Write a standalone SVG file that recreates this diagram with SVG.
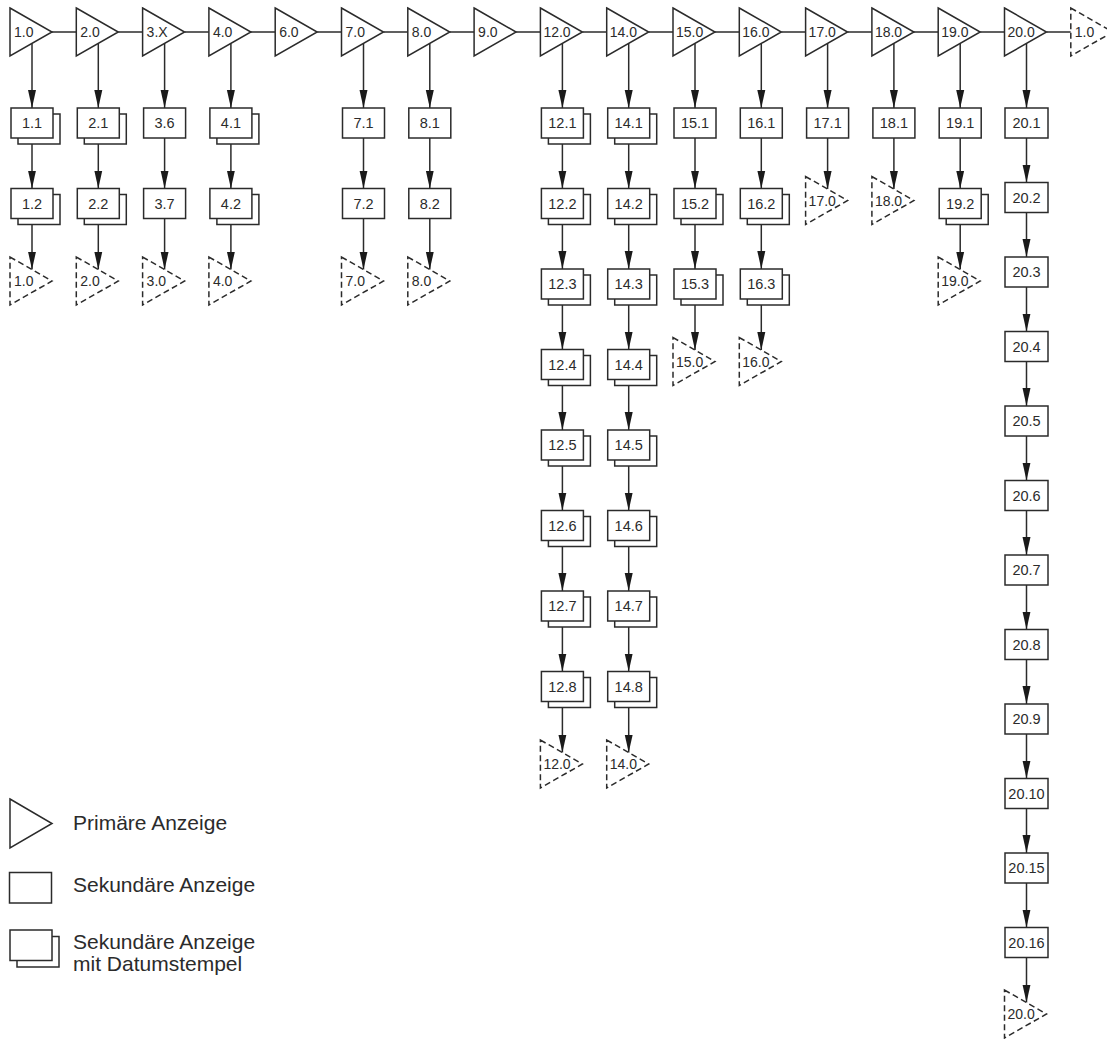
<svg xmlns="http://www.w3.org/2000/svg" width="1107" height="1039" viewBox="0 0 1107 1039">
<style>
.tri{fill:#fff;stroke:#2b2b2b;stroke-width:1.5}
.dtri{fill:#fff;stroke:#2b2b2b;stroke-width:1.5;stroke-dasharray:6 3.5}
.box{fill:#fff;stroke:#2b2b2b;stroke-width:1.5}
.con{fill:none;stroke:#2b2b2b;stroke-width:1.5}
.arr{fill:none;stroke:#2b2b2b;stroke-width:1.5;marker-end:url(#ah)}
text{font-family:"Liberation Sans",Arial,sans-serif;fill:#2b2b2b}
.tl{font-size:14px}
.bl{font-size:14.5px;text-anchor:middle}
.lg{font-size:21px}
</style>
<defs>
<marker id="ah" markerUnits="userSpaceOnUse" markerWidth="18" markerHeight="9" refX="18" refY="4.5" orient="auto"><path d="M0,0.5 L18,4.5 L0,8.5 z" fill="#1a1a1a"/></marker>
</defs>
<rect width="1107" height="1039" fill="#fff"/>
<g id="connectors">
<line class="con" x1="52" y1="32" x2="76.3" y2="32"/>
<line class="con" x1="118.3" y1="32" x2="142.6" y2="32"/>
<line class="con" x1="184.6" y1="32" x2="208.9" y2="32"/>
<line class="con" x1="250.9" y1="32" x2="275.2" y2="32"/>
<line class="con" x1="317.2" y1="32" x2="341.5" y2="32"/>
<line class="con" x1="383.5" y1="32" x2="407.8" y2="32"/>
<line class="con" x1="449.8" y1="32" x2="474.1" y2="32"/>
<line class="con" x1="516.1" y1="32" x2="540.4" y2="32"/>
<line class="con" x1="582.4" y1="32" x2="606.7" y2="32"/>
<line class="con" x1="648.7" y1="32" x2="673" y2="32"/>
<line class="con" x1="715" y1="32" x2="739.3" y2="32"/>
<line class="con" x1="781.3" y1="32" x2="805.6" y2="32"/>
<line class="con" x1="847.6" y1="32" x2="871.9" y2="32"/>
<line class="con" x1="913.9" y1="32" x2="938.2" y2="32"/>
<line class="con" x1="980.2" y1="32" x2="1004.5" y2="32"/>
<line class="con" x1="1046.5" y1="32" x2="1070.8" y2="32"/>
<line class="arr" x1="32" y1="43.4" x2="32" y2="108"/>
<line class="arr" x1="32" y1="138" x2="32" y2="188.5"/>
<line class="arr" x1="32" y1="218.5" x2="32" y2="269.6"/>
<line class="arr" x1="98.3" y1="43.4" x2="98.3" y2="108"/>
<line class="arr" x1="98.3" y1="138" x2="98.3" y2="188.5"/>
<line class="arr" x1="98.3" y1="218.5" x2="98.3" y2="269.6"/>
<line class="arr" x1="164.6" y1="43.4" x2="164.6" y2="108"/>
<line class="arr" x1="164.6" y1="138" x2="164.6" y2="188.5"/>
<line class="arr" x1="164.6" y1="218.5" x2="164.6" y2="269.6"/>
<line class="arr" x1="230.9" y1="43.4" x2="230.9" y2="108"/>
<line class="arr" x1="230.9" y1="138" x2="230.9" y2="188.5"/>
<line class="arr" x1="230.9" y1="218.5" x2="230.9" y2="269.6"/>
<line class="arr" x1="363.5" y1="43.4" x2="363.5" y2="108"/>
<line class="arr" x1="363.5" y1="138" x2="363.5" y2="188.5"/>
<line class="arr" x1="363.5" y1="218.5" x2="363.5" y2="269.6"/>
<line class="arr" x1="429.8" y1="43.4" x2="429.8" y2="108"/>
<line class="arr" x1="429.8" y1="138" x2="429.8" y2="188.5"/>
<line class="arr" x1="429.8" y1="218.5" x2="429.8" y2="269.6"/>
<line class="arr" x1="562.4" y1="43.4" x2="562.4" y2="108"/>
<line class="arr" x1="562.4" y1="138" x2="562.4" y2="188.5"/>
<line class="arr" x1="562.4" y1="218.5" x2="562.4" y2="269"/>
<line class="arr" x1="562.4" y1="299" x2="562.4" y2="349.5"/>
<line class="arr" x1="562.4" y1="379.5" x2="562.4" y2="430"/>
<line class="arr" x1="562.4" y1="460" x2="562.4" y2="510.5"/>
<line class="arr" x1="562.4" y1="540.5" x2="562.4" y2="591"/>
<line class="arr" x1="562.4" y1="621" x2="562.4" y2="671.5"/>
<line class="arr" x1="562.4" y1="701.5" x2="562.4" y2="752.6"/>
<line class="arr" x1="628.7" y1="43.4" x2="628.7" y2="108"/>
<line class="arr" x1="628.7" y1="138" x2="628.7" y2="188.5"/>
<line class="arr" x1="628.7" y1="218.5" x2="628.7" y2="269"/>
<line class="arr" x1="628.7" y1="299" x2="628.7" y2="349.5"/>
<line class="arr" x1="628.7" y1="379.5" x2="628.7" y2="430"/>
<line class="arr" x1="628.7" y1="460" x2="628.7" y2="510.5"/>
<line class="arr" x1="628.7" y1="540.5" x2="628.7" y2="591"/>
<line class="arr" x1="628.7" y1="621" x2="628.7" y2="671.5"/>
<line class="arr" x1="628.7" y1="701.5" x2="628.7" y2="752.6"/>
<line class="arr" x1="695" y1="43.4" x2="695" y2="108"/>
<line class="arr" x1="695" y1="138" x2="695" y2="188.5"/>
<line class="arr" x1="695" y1="218.5" x2="695" y2="269"/>
<line class="arr" x1="695" y1="299" x2="695" y2="350.1"/>
<line class="arr" x1="761.3" y1="43.4" x2="761.3" y2="108"/>
<line class="arr" x1="761.3" y1="138" x2="761.3" y2="188.5"/>
<line class="arr" x1="761.3" y1="218.5" x2="761.3" y2="269"/>
<line class="arr" x1="761.3" y1="299" x2="761.3" y2="350.1"/>
<line class="arr" x1="827.6" y1="43.4" x2="827.6" y2="108"/>
<line class="arr" x1="827.6" y1="138" x2="827.6" y2="189.1"/>
<line class="arr" x1="893.9" y1="43.4" x2="893.9" y2="108"/>
<line class="arr" x1="893.9" y1="138" x2="893.9" y2="189.1"/>
<line class="arr" x1="960.2" y1="43.4" x2="960.2" y2="108"/>
<line class="arr" x1="960.2" y1="138" x2="960.2" y2="188.5"/>
<line class="arr" x1="960.2" y1="218.5" x2="960.2" y2="269.6"/>
<line class="arr" x1="1026.5" y1="43.4" x2="1026.5" y2="108"/>
<line class="arr" x1="1026.5" y1="138" x2="1026.5" y2="182.5"/>
<line class="arr" x1="1026.5" y1="212.5" x2="1026.5" y2="257"/>
<line class="arr" x1="1026.5" y1="287" x2="1026.5" y2="331.5"/>
<line class="arr" x1="1026.5" y1="361.5" x2="1026.5" y2="406"/>
<line class="arr" x1="1026.5" y1="436" x2="1026.5" y2="480.5"/>
<line class="arr" x1="1026.5" y1="510.5" x2="1026.5" y2="555"/>
<line class="arr" x1="1026.5" y1="585" x2="1026.5" y2="629.5"/>
<line class="arr" x1="1026.5" y1="659.5" x2="1026.5" y2="704"/>
<line class="arr" x1="1026.5" y1="734" x2="1026.5" y2="778.5"/>
<line class="arr" x1="1026.5" y1="808.5" x2="1026.5" y2="853"/>
<line class="arr" x1="1026.5" y1="883" x2="1026.5" y2="927.5"/>
<line class="arr" x1="1026.5" y1="957.5" x2="1026.5" y2="1002.6"/>
</g>

<g id="p1_0"><polygon class="tri" points="10,8 52,32 10,56"/><text class="tl" x="14" y="37">1.0</text></g>
<g id="p2_0"><polygon class="tri" points="76.3,8 118.3,32 76.3,56"/><text class="tl" x="80.3" y="37">2.0</text></g>
<g id="p3_x"><polygon class="tri" points="142.6,8 184.6,32 142.6,56"/><text class="tl" x="146.6" y="37">3.X</text></g>
<g id="p4_0"><polygon class="tri" points="208.9,8 250.9,32 208.9,56"/><text class="tl" x="212.9" y="37">4.0</text></g>
<g id="p6_0"><polygon class="tri" points="275.2,8 317.2,32 275.2,56"/><text class="tl" x="279.2" y="37">6.0</text></g>
<g id="p7_0"><polygon class="tri" points="341.5,8 383.5,32 341.5,56"/><text class="tl" x="345.5" y="37">7.0</text></g>
<g id="p8_0"><polygon class="tri" points="407.8,8 449.8,32 407.8,56"/><text class="tl" x="411.8" y="37">8.0</text></g>
<g id="p9_0"><polygon class="tri" points="474.1,8 516.1,32 474.1,56"/><text class="tl" x="478.1" y="37">9.0</text></g>
<g id="p12_0"><polygon class="tri" points="540.4,8 582.4,32 540.4,56"/><text class="tl" x="543.4" y="37">12.0</text></g>
<g id="p14_0"><polygon class="tri" points="606.7,8 648.7,32 606.7,56"/><text class="tl" x="609.7" y="37">14.0</text></g>
<g id="p15_0"><polygon class="tri" points="673,8 715,32 673,56"/><text class="tl" x="676" y="37">15.0</text></g>
<g id="p16_0"><polygon class="tri" points="739.3,8 781.3,32 739.3,56"/><text class="tl" x="742.3" y="37">16.0</text></g>
<g id="p17_0"><polygon class="tri" points="805.6,8 847.6,32 805.6,56"/><text class="tl" x="808.6" y="37">17.0</text></g>
<g id="p18_0"><polygon class="tri" points="871.9,8 913.9,32 871.9,56"/><text class="tl" x="874.9" y="37">18.0</text></g>
<g id="p19_0"><polygon class="tri" points="938.2,8 980.2,32 938.2,56"/><text class="tl" x="941.2" y="37">19.0</text></g>
<g id="p20_0"><polygon class="tri" points="1004.5,8 1046.5,32 1004.5,56"/><text class="tl" x="1007.5" y="37">20.0</text></g>
<g id="ref1_0_top"><polygon class="dtri" points="1070.8,8 1112.8,32 1070.8,56"/><text class="tl" x="1074.8" y="37">1.0</text></g>

<g id="s1_1"><rect class="box" x="18" y="114" width="42" height="30"/><rect class="box" x="11" y="108" width="42" height="30"/><text class="bl" x="32" y="128">1.1</text></g>
<g id="s1_2"><rect class="box" x="18" y="194.5" width="42" height="30"/><rect class="box" x="11" y="188.5" width="42" height="30"/><text class="bl" x="32" y="208.5">1.2</text></g>
<g id="ref1_0"><polygon class="dtri" points="10,257 52,281 10,305"/><text class="tl" x="14" y="286">1.0</text></g>
<g id="s2_1"><rect class="box" x="84.3" y="114" width="42" height="30"/><rect class="box" x="77.3" y="108" width="42" height="30"/><text class="bl" x="98.3" y="128">2.1</text></g>
<g id="s2_2"><rect class="box" x="84.3" y="194.5" width="42" height="30"/><rect class="box" x="77.3" y="188.5" width="42" height="30"/><text class="bl" x="98.3" y="208.5">2.2</text></g>
<g id="ref2_0"><polygon class="dtri" points="76.3,257 118.3,281 76.3,305"/><text class="tl" x="80.3" y="286">2.0</text></g>
<g id="s3_6"><rect class="box" x="143.6" y="108" width="42" height="30"/><text class="bl" x="164.6" y="128">3.6</text></g>
<g id="s3_7"><rect class="box" x="143.6" y="188.5" width="42" height="30"/><text class="bl" x="164.6" y="208.5">3.7</text></g>
<g id="ref3_0"><polygon class="dtri" points="142.6,257 184.6,281 142.6,305"/><text class="tl" x="146.6" y="286">3.0</text></g>
<g id="s4_1"><rect class="box" x="216.9" y="114" width="42" height="30"/><rect class="box" x="209.9" y="108" width="42" height="30"/><text class="bl" x="230.9" y="128">4.1</text></g>
<g id="s4_2"><rect class="box" x="216.9" y="194.5" width="42" height="30"/><rect class="box" x="209.9" y="188.5" width="42" height="30"/><text class="bl" x="230.9" y="208.5">4.2</text></g>
<g id="ref4_0"><polygon class="dtri" points="208.9,257 250.9,281 208.9,305"/><text class="tl" x="212.9" y="286">4.0</text></g>
<g id="s7_1"><rect class="box" x="342.5" y="108" width="42" height="30"/><text class="bl" x="363.5" y="128">7.1</text></g>
<g id="s7_2"><rect class="box" x="342.5" y="188.5" width="42" height="30"/><text class="bl" x="363.5" y="208.5">7.2</text></g>
<g id="ref7_0"><polygon class="dtri" points="341.5,257 383.5,281 341.5,305"/><text class="tl" x="345.5" y="286">7.0</text></g>
<g id="s8_1"><rect class="box" x="408.8" y="108" width="42" height="30"/><text class="bl" x="429.8" y="128">8.1</text></g>
<g id="s8_2"><rect class="box" x="408.8" y="188.5" width="42" height="30"/><text class="bl" x="429.8" y="208.5">8.2</text></g>
<g id="ref8_0"><polygon class="dtri" points="407.8,257 449.8,281 407.8,305"/><text class="tl" x="411.8" y="286">8.0</text></g>
<g id="s12_1"><rect class="box" x="548.4" y="114" width="42" height="30"/><rect class="box" x="541.4" y="108" width="42" height="30"/><text class="bl" x="562.4" y="128">12.1</text></g>
<g id="s12_2"><rect class="box" x="548.4" y="194.5" width="42" height="30"/><rect class="box" x="541.4" y="188.5" width="42" height="30"/><text class="bl" x="562.4" y="208.5">12.2</text></g>
<g id="s12_3"><rect class="box" x="548.4" y="275" width="42" height="30"/><rect class="box" x="541.4" y="269" width="42" height="30"/><text class="bl" x="562.4" y="289">12.3</text></g>
<g id="s12_4"><rect class="box" x="548.4" y="355.5" width="42" height="30"/><rect class="box" x="541.4" y="349.5" width="42" height="30"/><text class="bl" x="562.4" y="369.5">12.4</text></g>
<g id="s12_5"><rect class="box" x="548.4" y="436" width="42" height="30"/><rect class="box" x="541.4" y="430" width="42" height="30"/><text class="bl" x="562.4" y="450">12.5</text></g>
<g id="s12_6"><rect class="box" x="548.4" y="516.5" width="42" height="30"/><rect class="box" x="541.4" y="510.5" width="42" height="30"/><text class="bl" x="562.4" y="530.5">12.6</text></g>
<g id="s12_7"><rect class="box" x="548.4" y="597" width="42" height="30"/><rect class="box" x="541.4" y="591" width="42" height="30"/><text class="bl" x="562.4" y="611">12.7</text></g>
<g id="s12_8"><rect class="box" x="548.4" y="677.5" width="42" height="30"/><rect class="box" x="541.4" y="671.5" width="42" height="30"/><text class="bl" x="562.4" y="691.5">12.8</text></g>
<g id="ref12_0"><polygon class="dtri" points="540.4,740 582.4,764 540.4,788"/><text class="tl" x="543.4" y="769">12.0</text></g>
<g id="s14_1"><rect class="box" x="614.7" y="114" width="42" height="30"/><rect class="box" x="607.7" y="108" width="42" height="30"/><text class="bl" x="628.7" y="128">14.1</text></g>
<g id="s14_2"><rect class="box" x="614.7" y="194.5" width="42" height="30"/><rect class="box" x="607.7" y="188.5" width="42" height="30"/><text class="bl" x="628.7" y="208.5">14.2</text></g>
<g id="s14_3"><rect class="box" x="614.7" y="275" width="42" height="30"/><rect class="box" x="607.7" y="269" width="42" height="30"/><text class="bl" x="628.7" y="289">14.3</text></g>
<g id="s14_4"><rect class="box" x="614.7" y="355.5" width="42" height="30"/><rect class="box" x="607.7" y="349.5" width="42" height="30"/><text class="bl" x="628.7" y="369.5">14.4</text></g>
<g id="s14_5"><rect class="box" x="614.7" y="436" width="42" height="30"/><rect class="box" x="607.7" y="430" width="42" height="30"/><text class="bl" x="628.7" y="450">14.5</text></g>
<g id="s14_6"><rect class="box" x="614.7" y="516.5" width="42" height="30"/><rect class="box" x="607.7" y="510.5" width="42" height="30"/><text class="bl" x="628.7" y="530.5">14.6</text></g>
<g id="s14_7"><rect class="box" x="614.7" y="597" width="42" height="30"/><rect class="box" x="607.7" y="591" width="42" height="30"/><text class="bl" x="628.7" y="611">14.7</text></g>
<g id="s14_8"><rect class="box" x="614.7" y="677.5" width="42" height="30"/><rect class="box" x="607.7" y="671.5" width="42" height="30"/><text class="bl" x="628.7" y="691.5">14.8</text></g>
<g id="ref14_0"><polygon class="dtri" points="606.7,740 648.7,764 606.7,788"/><text class="tl" x="609.7" y="769">14.0</text></g>
<g id="s15_1"><rect class="box" x="674" y="108" width="42" height="30"/><text class="bl" x="695" y="128">15.1</text></g>
<g id="s15_2"><rect class="box" x="681" y="194.5" width="42" height="30"/><rect class="box" x="674" y="188.5" width="42" height="30"/><text class="bl" x="695" y="208.5">15.2</text></g>
<g id="s15_3"><rect class="box" x="681" y="275" width="42" height="30"/><rect class="box" x="674" y="269" width="42" height="30"/><text class="bl" x="695" y="289">15.3</text></g>
<g id="ref15_0"><polygon class="dtri" points="673,337.5 715,361.5 673,385.5"/><text class="tl" x="676" y="366.5">15.0</text></g>
<g id="s16_1"><rect class="box" x="740.3" y="108" width="42" height="30"/><text class="bl" x="761.3" y="128">16.1</text></g>
<g id="s16_2"><rect class="box" x="747.3" y="194.5" width="42" height="30"/><rect class="box" x="740.3" y="188.5" width="42" height="30"/><text class="bl" x="761.3" y="208.5">16.2</text></g>
<g id="s16_3"><rect class="box" x="747.3" y="275" width="42" height="30"/><rect class="box" x="740.3" y="269" width="42" height="30"/><text class="bl" x="761.3" y="289">16.3</text></g>
<g id="ref16_0"><polygon class="dtri" points="739.3,337.5 781.3,361.5 739.3,385.5"/><text class="tl" x="742.3" y="366.5">16.0</text></g>
<g id="s17_1"><rect class="box" x="806.6" y="108" width="42" height="30"/><text class="bl" x="827.6" y="128">17.1</text></g>
<g id="ref17_0"><polygon class="dtri" points="805.6,176.5 847.6,200.5 805.6,224.5"/><text class="tl" x="808.6" y="205.5">17.0</text></g>
<g id="s18_1"><rect class="box" x="872.9" y="108" width="42" height="30"/><text class="bl" x="893.9" y="128">18.1</text></g>
<g id="ref18_0"><polygon class="dtri" points="871.9,176.5 913.9,200.5 871.9,224.5"/><text class="tl" x="874.9" y="205.5">18.0</text></g>
<g id="s19_1"><rect class="box" x="939.2" y="108" width="42" height="30"/><text class="bl" x="960.2" y="128">19.1</text></g>
<g id="s19_2"><rect class="box" x="946.2" y="194.5" width="42" height="30"/><rect class="box" x="939.2" y="188.5" width="42" height="30"/><text class="bl" x="960.2" y="208.5">19.2</text></g>
<g id="ref19_0"><polygon class="dtri" points="938.2,257 980.2,281 938.2,305"/><text class="tl" x="941.2" y="286">19.0</text></g>
<g id="s20_1"><rect class="box" x="1005" y="108" width="43" height="30"/><text class="bl" x="1026.5" y="128">20.1</text></g>
<g id="s20_2"><rect class="box" x="1005" y="182.5" width="43" height="30"/><text class="bl" x="1026.5" y="202.5">20.2</text></g>
<g id="s20_3"><rect class="box" x="1005" y="257" width="43" height="30"/><text class="bl" x="1026.5" y="277">20.3</text></g>
<g id="s20_4"><rect class="box" x="1005" y="331.5" width="43" height="30"/><text class="bl" x="1026.5" y="351.5">20.4</text></g>
<g id="s20_5"><rect class="box" x="1005" y="406" width="43" height="30"/><text class="bl" x="1026.5" y="426">20.5</text></g>
<g id="s20_6"><rect class="box" x="1005" y="480.5" width="43" height="30"/><text class="bl" x="1026.5" y="500.5">20.6</text></g>
<g id="s20_7"><rect class="box" x="1005" y="555" width="43" height="30"/><text class="bl" x="1026.5" y="575">20.7</text></g>
<g id="s20_8"><rect class="box" x="1005" y="629.5" width="43" height="30"/><text class="bl" x="1026.5" y="649.5">20.8</text></g>
<g id="s20_9"><rect class="box" x="1005" y="704" width="43" height="30"/><text class="bl" x="1026.5" y="724">20.9</text></g>
<g id="s20_10"><rect class="box" x="1005" y="778.5" width="43" height="30"/><text class="bl" x="1026.5" y="798.5">20.10</text></g>
<g id="s20_15"><rect class="box" x="1005" y="853" width="43" height="30"/><text class="bl" x="1026.5" y="873">20.15</text></g>
<g id="s20_16"><rect class="box" x="1005" y="927.5" width="43" height="30"/><text class="bl" x="1026.5" y="947.5">20.16</text></g>
<g id="ref20_0"><polygon class="dtri" points="1004.5,990 1046.5,1014 1004.5,1038"/><text class="tl" x="1007.5" y="1019">20.0</text></g>

<g id="legend-primary"><polygon class="tri" points="10,799 52,823.5 10,848"/><text class="lg" x="73" y="830">Primäre Anzeige</text></g>
<g id="legend-secondary"><rect class="box" x="9.5" y="872.5" width="42" height="30.5"/><text class="lg" x="73" y="892">Sekundäre Anzeige</text></g>
<g id="legend-stamped"><rect class="box" x="17" y="936.5" width="42" height="30.5"/><rect class="box" x="10" y="930" width="42" height="30.5"/><text class="lg" x="73" y="949">Sekundäre Anzeige</text><text class="lg" x="73" y="971">mit Datumstempel</text></g>
</svg>
